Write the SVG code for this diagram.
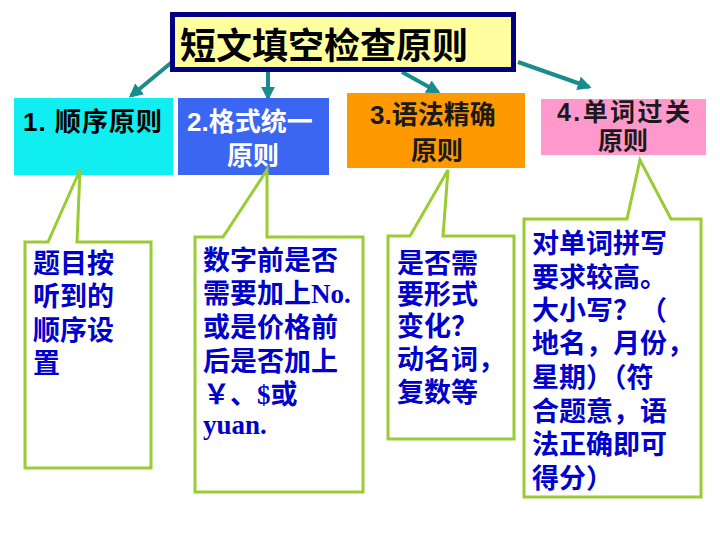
<svg xmlns="http://www.w3.org/2000/svg" width="720" height="540" viewBox="0 0 720 540">
<style>
.hdr{font-family:"Liberation Sans","Noto Sans CJK SC",sans-serif;font-weight:bold;font-size:26px}
.cl{fill:#ffffff;stroke:#99CC33;stroke-width:3;stroke-linejoin:miter}
.ct{font-family:"Liberation Serif","Noto Sans CJK SC",serif;font-weight:bold;font-size:27px;fill:#0000CC}
.ar{stroke:#1A8C8C;stroke-width:4;fill:none;marker-end:url(#ah)}
</style>
<defs>
<marker id="ah" viewBox="0 0 10 10" refX="8" refY="5" markerWidth="3.5" markerHeight="3.5" orient="auto" markerUnits="strokeWidth">
<path d="M0,0 L10,5 L0,10 Z" fill="#1A8C8C"/>
</marker>
</defs>
<rect width="720" height="540" fill="#ffffff"/>
<g id="connectors">
<line class="ar" x1="172" y1="62" x2="131" y2="96"/>
<line class="ar" x1="268" y1="72" x2="268" y2="98"/>
<line class="ar" x1="402" y1="72" x2="438" y2="92"/>
<line class="ar" x1="518" y1="62" x2="589" y2="87"/>
</g>
<g id="title">
<rect x="172.5" y="14.5" width="341" height="55" fill="#FFFFA0" stroke="#000080" stroke-width="5"/>
<text x="180" y="59" font-family="Liberation Sans, Noto Sans CJK SC, sans-serif" font-weight="bold" font-size="36" fill="#000000">短文填空检查原则</text>
</g>
<g id="n1">
<rect x="14" y="98" width="159" height="77" fill="#10EEF2"/>
<text class="hdr" x="23" y="131" fill="#000000" textLength="139" lengthAdjust="spacing">1. 顺序原则</text>
</g>
<g id="n2">
<rect x="178" y="98" width="151" height="77" fill="#3A66F2"/>
<text class="hdr" x="187" y="131" fill="#ffffff">2.格式统一</text>
<text class="hdr" x="253" y="165" fill="#ffffff" text-anchor="middle">原则</text>
</g>
<g id="n3">
<rect x="347" y="93" width="178" height="75" fill="#FF9900"/>
<text class="hdr" x="370" y="124" fill="#1a1a1a">3.语法精确</text>
<text class="hdr" x="437" y="160" fill="#1a1a1a" text-anchor="middle">原则</text>
</g>
<g id="n4">
<rect x="541" y="99" width="165" height="56" fill="#FF99CC"/>
<text class="hdr" x="557" y="121" fill="#1a1a1a" style="font-size:25px" textLength="133" lengthAdjust="spacing">4.单词过关</text>
<text class="hdr" x="623" y="150" fill="#1a1a1a" style="font-size:25px" text-anchor="middle">原则</text>
</g>
<g id="c1">
<path class="cl" d="M25,242 L48,242 L80,170 L77,242 L151,242 L151,468 L25,468 Z"/>
<text class="ct" x="33" y="273">题目按</text>
<text class="ct" x="33" y="306">听到的</text>
<text class="ct" x="33" y="340">顺序设</text>
<text class="ct" x="33" y="373">置</text>
</g>
<g id="c2">
<path class="cl" d="M195,237 L223,237 L267,170 L267,237 L363,237 L363,492 L195,492 Z"/>
<text class="ct" x="203" y="270">数字前是否</text>
<text class="ct" x="203" y="303">需要加上No.</text>
<text class="ct" x="203" y="337">或是价格前</text>
<text class="ct" x="203" y="371">后是否加上</text>
<text class="ct" x="203" y="404">￥、$或</text>
<text class="ct" x="203" y="434">yuan.</text>
</g>
<g id="c3">
<path class="cl" d="M388,236 L410,236 L448,170 L443,236 L514,236 L514,439 L388,439 Z"/>
<text class="ct" x="397" y="273">是否需</text>
<text class="ct" x="397" y="304">要形式</text>
<text class="ct" x="397" y="336">变化？</text>
<text class="ct" x="397" y="369">动名词，</text>
<text class="ct" x="397" y="402">复数等</text>
</g>
<g id="c4">
<path class="cl" d="M524,219 L627,219 L640,160 L671,219 L701,219 L701,497 L524,497 Z"/>
<text class="ct" x="532" y="253">对单词拼写</text>
<text class="ct" x="532" y="287">要求较高。</text>
<text class="ct" x="532" y="320">大小写？（</text>
<text class="ct" x="532" y="353">地名，月份，</text>
<text class="ct" x="532" y="387">星期）（符</text>
<text class="ct" x="532" y="421">合题意，语</text>
<text class="ct" x="532" y="454">法正确即可</text>
<text class="ct" x="532" y="488">得分）</text>
</g>
</svg>
